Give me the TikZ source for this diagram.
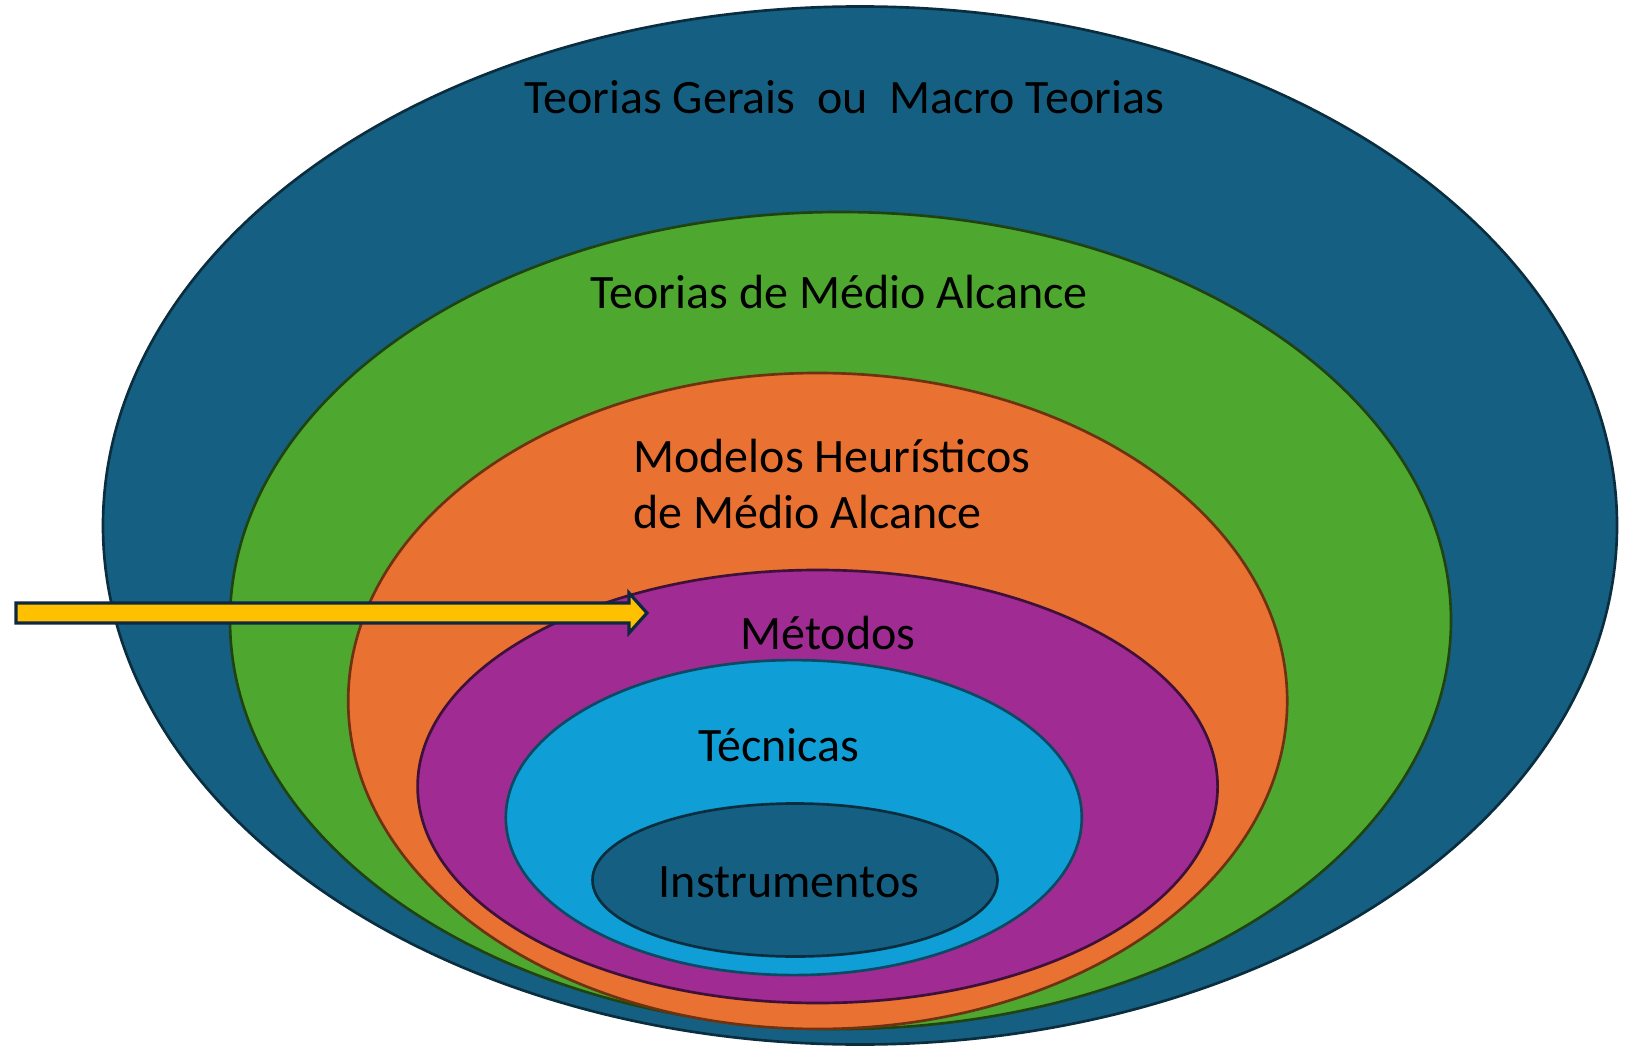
\documentclass[tikz,border=0pt]{standalone}
\usepackage{fontspec}
\setmainfont{Carlito}
\definecolor{acc1}{HTML}{156082}
\definecolor{acc1d}{HTML}{0A2E40}
\definecolor{acc6}{HTML}{4EA72E}
\definecolor{acc6d}{HTML}{1F4412}
\definecolor{acc2}{HTML}{E97132}
\definecolor{acc2d}{HTML}{6E3210}
\definecolor{acc5}{HTML}{A02B93}
\definecolor{acc5d}{HTML}{3F1039}
\definecolor{acc4}{HTML}{0F9ED5}
\definecolor{acc4d}{HTML}{0B4A62}
\definecolor{arrowfill}{HTML}{FFC000}
\definecolor{arrowline}{HTML}{0E2841}
\begin{document}
\begin{tikzpicture}[x=0.75pt,y=-0.75pt,
  ring/.style={line width=2pt},
  lbl/.style={inner sep=0pt,font=\fontsize{36}{43}\selectfont,text=black}]
\useasboundingbox[fill=white] (0,0) rectangle (1627,1048);
\coordinate (c1) at (860,525.5);
\coordinate (c2) at (840.5,620.5);
\coordinate (c3) at (817.7,701);
\coordinate (c4) at (817.6,786.5);
\coordinate (c5) at (793.8,817.6);
\coordinate (c6) at (795,880);
\draw[ring,fill=acc1,draw=acc1d] (c1) ellipse [x radius=757,y radius=519];
\draw[ring,fill=acc6,draw=acc6d] (c2) ellipse [x radius=610.5,y radius=408.5];
\draw[ring,fill=acc2,draw=acc2d] (c3) ellipse [x radius=469.5,y radius=328];
\draw[ring,fill=acc5,draw=acc5d] (c4) ellipse [x radius=400,y radius=216.5];
\draw[ring,fill=acc4,draw=acc4d] (c5) ellipse [x radius=288,y radius=157.5];
\draw[ring,fill=acc1,draw=acc1d] (c6) ellipse [x radius=202.5,y radius=76.5];
\node[lbl,anchor=base] (t1) at (844,114) {Teorias Gerais\ \ ou\ \ Macro Teorias};
\node[lbl,anchor=base] (t2) at (839,309) {Teorias de Médio Alcance};
\node[lbl,anchor=base west] (t3a) at (633,472) {Modelos Heurísticos};
\node[lbl,anchor=base west] (t3b) at (633,528) {de Médio Alcance};
\node[lbl,anchor=base] (t4) at (828,649) {Métodos};
\node[lbl,anchor=base] (t5) at (779,761) {Técnicas};
\node[lbl,anchor=base] (t6) at (789,897) {Instrumentos};
\coordinate (tail) at (16,613);
\coordinate (tip) at (647,613);
\draw[line width=2.4pt,fill=arrowfill,draw=arrowline,line join=miter]
  (tail) ++(0,-10) -- ++(613,0) -- ++(0,-10) -- (tip) -- ++(-18,20) -- ++(0,-10) -- ++(-613,0) -- cycle;
\end{tikzpicture}
\end{document}
